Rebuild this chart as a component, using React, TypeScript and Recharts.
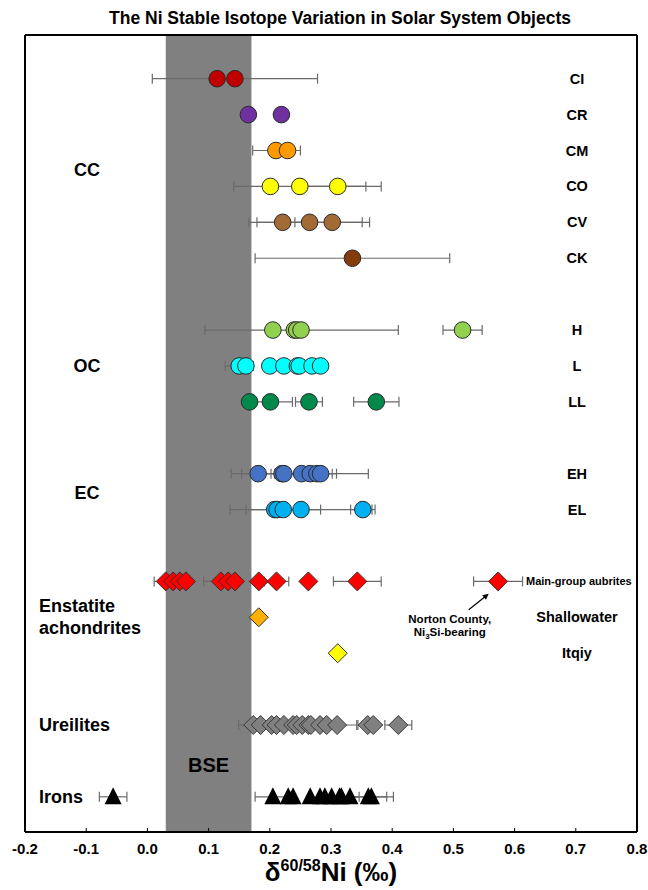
import React from "react";
import { ScatterChart, Scatter, XAxis, YAxis, ErrorBar, ReferenceArea } from "recharts";

// rows top to bottom, with empty slots between the groups
const rowNames = ["CI", "CR", "CM", "CO", "CV", "CK", "H", "L", "LL", "EH", "EL", "Main-group aubrites", "Shallowater", "Itqiy", "Ureilites", "Irons"];
const rowSlots = [0, 1, 2, 3, 4, 5, 7, 8, 9, 11, 12, 14, 15, 16, 18, 20];

const groupNames = ["CC", "OC", "EC", "Enstatite achondrites", "Ureilites", "Irons"];
const groupSlots = [2.55, 8, 11.55, 15.2, 18, 20];

const xTicks = [-0.2, -0.1, 0.0, 0.1, 0.2, 0.3, 0.4, 0.5, 0.6, 0.7, 0.8];
const bseRange = [0.03, 0.17];

// delta 60/58 Ni values (permil)
const ciValues = [0.114, 0.143];
const crValues = [0.165, 0.219];
const cmValues = [0.21, 0.229];
const coValues = [0.201, 0.249, 0.311];
const cvValues = [0.221, 0.265, 0.302];
const ckValues = [0.335];
const hValues = [0.205, 0.24, 0.244, 0.251, 0.515];
const lValues = [0.15, 0.161, 0.2, 0.223, 0.245, 0.248, 0.269, 0.283];
const llValues = [0.167, 0.201, 0.264, 0.374];
const ehValues = [0.181, 0.22, 0.223, 0.252, 0.266, 0.277, 0.283];
const elValues = [0.208, 0.212, 0.222, 0.251, 0.352];
const aubriteValues = [0.03, 0.042, 0.053, 0.063, 0.12, 0.132, 0.143, 0.182, 0.211, 0.263, 0.343, 0.573];
const shallowaterValues = [0.182];
const itqiyValues = [0.311];
const ureiliteValues = [0.173, 0.185, 0.203, 0.211, 0.223, 0.238, 0.244, 0.253, 0.263, 0.267, 0.282, 0.293, 0.31, 0.36, 0.369, 0.41];
const ironValues = [-0.056, 0.205, 0.23, 0.238, 0.266, 0.282, 0.29, 0.301, 0.314, 0.317, 0.331, 0.361, 0.366];

// [value, 2SD] for the points that carry error bars
const ciErrors = [[0.143, 0.135]];
const cmErrors = [[0.211, 0.039]];
const coErrors = [[0.249, 0.108], [0.311, 0.071]];
const cvErrors = [[0.221, 0.055], [0.265, 0.086], [0.302, 0.061]];
const ckErrors = [[0.335, 0.159]];
const hErrors = [[0.252, 0.158], [0.515, 0.032]];
const lErrors = [[0.15, 0.023]];
const llErrors = [[0.201, 0.036], [0.264, 0.022], [0.374, 0.037]];
const ehErrors = [[0.181, 0.027], [0.223, 0.086], [0.252, 0.05], [0.266, 0.095]];
const elErrors = [[0.222, 0.061], [0.251, 0.116], [0.352, 0.02]];
const aubriteErrors = [[0.03, 0.019], [0.12, 0.028], [0.211, 0.02], [0.343, 0.039], [0.573, 0.04]];
const ureiliteErrors = [[0.173, 0.024], [0.31, 0.032], [0.36, 0.016], [0.41, 0.022]];
const ironErrors = [[-0.056, 0.0225], [0.205, 0.029], [0.317, 0.029], [0.361, 0.03], [0.366, 0.036]];

const slotOf = (name: string) => rowSlots[rowNames.indexOf(name)];

const series = [
  { name: "CI", values: ciValues, errors: ciErrors, fill: "#C00000", marker: "circle" },
  { name: "CR", values: crValues, errors: [], fill: "#7030A0", marker: "circle" },
  { name: "CM", values: cmValues, errors: cmErrors, fill: "#FF9900", marker: "circle" },
  { name: "CO", values: coValues, errors: coErrors, fill: "#FFFF00", marker: "circle" },
  { name: "CV", values: cvValues, errors: cvErrors, fill: "#A26A35", marker: "circle" },
  { name: "CK", values: ckValues, errors: ckErrors, fill: "#843C0C", marker: "circle" },
  { name: "H", values: hValues, errors: hErrors, fill: "#92D050", marker: "circle" },
  { name: "L", values: lValues, errors: lErrors, fill: "#00FFFF", marker: "circle" },
  { name: "LL", values: llValues, errors: llErrors, fill: "#00894A", marker: "circle" },
  { name: "EH", values: ehValues, errors: ehErrors, fill: "#4472C4", marker: "circle" },
  { name: "EL", values: elValues, errors: elErrors, fill: "#00B0F0", marker: "circle" },
  { name: "Main-group aubrites", values: aubriteValues, errors: aubriteErrors, fill: "#FF0000", marker: "diamond" },
  { name: "Shallowater", values: shallowaterValues, errors: [], fill: "#FFB000", marker: "diamond" },
  { name: "Itqiy", values: itqiyValues, errors: [], fill: "#FFFF00", marker: "diamond" },
  { name: "Ureilites", values: ureiliteValues, errors: ureiliteErrors, fill: "#808080", marker: "diamond" },
  { name: "Irons", values: ironValues, errors: ironErrors, fill: "#000000", marker: "triangle" },
];

const errorPoints = series.flatMap((s) => s.errors.map(([x, err]) => ({ x, y: slotOf(s.name), err })));

const yDomain = [-1.217, 20.98];
const font = "'Liberation Sans', Arial, Helvetica, sans-serif";

const markerShape = (kind: string, fill: string) => (p: any) => {
  const { cx, cy } = p;
  if (kind === "circle") {
    return <circle cx={cx} cy={cy} r={8.3} fill={fill} stroke="#2a2a2a" strokeWidth={1} />;
  }
  if (kind === "diamond") {
    const d = 9.5;
    return (
      <polygon
        points={`${cx},${cy - d} ${cx + d},${cy} ${cx},${cy + d} ${cx - d},${cy}`}
        fill={fill}
        stroke={fill === "#808080" ? "#3a3a3a" : "#333"}
        strokeWidth={1}
      />
    );
  }
  return <polygon points={`${cx},${cy - 9.5} ${cx + 8.5},${cy + 7.5} ${cx - 8.5},${cy + 7.5}`} fill={fill} />;
};

const XTick = (p: any) => {
  const { x, y, payload } = p;
  return (
    <g>
      <line x1={x} y1={y} x2={x} y2={y - 4} stroke="#000" strokeWidth={1} />
      <text x={x} y={y + 22} textAnchor="middle" fontSize={15} fontWeight="bold" fill="#000">
        {payload.value.toFixed(1)}
      </text>
    </g>
  );
};

// plot frame edges, used by the label ticks
const plotLeft = 25;
const plotRight = 637;

const LeftTick = (p: any) => {
  const { y, payload } = p;
  const name = groupNames[groupSlots.indexOf(payload.value)];
  if (name === "CC" || name === "OC" || name === "EC") {
    return (
      <text x={plotLeft + 62} y={y + 6} textAnchor="middle" fontSize={18} fontWeight="bold" fill="#000">
        {name}
      </text>
    );
  }
  const words = name.split(" ");
  if (words.length > 1) {
    return (
      <text x={plotLeft + 14} y={y - 12} textAnchor="start" fontSize={18} fontWeight="bold" fill="#000">
        <tspan x={plotLeft + 14} dy={0}>{words[0]}</tspan>
        <tspan x={plotLeft + 14} dy={22}>{words[1]}</tspan>
      </text>
    );
  }
  return (
    <text x={plotLeft + 14} y={y + 6} textAnchor="start" fontSize={18} fontWeight="bold" fill="#000">
      {name}
    </text>
  );
};

const RightTick = (p: any) => {
  const { y, payload } = p;
  const name = rowNames[rowSlots.indexOf(payload.value)];
  if (name === "Main-group aubrites") {
    return (
      <text x={plotRight - 111} y={y + 4} textAnchor="start" fontSize={11} fontWeight="bold" fill="#000">
        {name}
      </text>
    );
  }
  return (
    <text x={plotRight - 60} y={y + 5} textAnchor="middle" fontSize={14.5} fontWeight="bold" fill="#000">
      {name}
    </text>
  );
};

const rightSlots = rowSlots.filter((_, i) => rowNames[i] !== "Ureilites" && rowNames[i] !== "Irons");

// Norton County note, anchored on the text centre
const nortonNote = [{ x: 0.494, y: 15.04 }];
const NortonShape = (p: any) => {
  const { cx, cy } = p;
  const tx = cx + 39;
  const ty = cy - 25;
  return (
    <g>
      <text x={cx} y={cy + 4} textAnchor="middle" fontSize={11.5} fontWeight="bold" fill="#000">
        Norton County,
      </text>
      <text x={cx} y={cy + 17} textAnchor="middle" fontSize={11.5} fontWeight="bold" fill="#000">
        Ni<tspan fontSize={8} dy={3}>3</tspan>
        <tspan dy={-3}>Si-bearing</tspan>
      </text>
      <line x1={cx + 19} y1={cy - 9} x2={tx - 4} y2={ty + 3.2} stroke="#000" strokeWidth={1.2} />
      <polygon points={`${tx},${ty} ${tx - 4.7 + 1.9},${ty + 3.75 + 2.3} ${tx - 4.7 - 1.9},${ty + 3.75 - 2.3}`} fill="#000" />
    </g>
  );
};

const AxisTitle = (p: any) => {
  const { viewBox } = p;
  const cx = viewBox.x + viewBox.width / 2;
  return (
    <text x={cx} y={viewBox.y + 49} textAnchor="middle" fontSize={26} fontWeight="bold" fill="#000">
      δ<tspan fontSize={16} dy={-10}>60/58</tspan>
      <tspan dy={10}>Ni (‰)</tspan>
    </text>
  );
};

export default function App() {
  return (
    <div style={{ position: "absolute", left: 0, top: 0, width: 648, height: 890, background: "#fff", fontFamily: font }}>
      <div
        style={{
          position: "absolute",
          left: 0,
          top: 7,
          width: 680,
          textAlign: "center",
          fontSize: 17.5,
          fontWeight: "bold",
          lineHeight: "22px",
          color: "#000",
        }}
      >
        The Ni Stable Isotope Variation in Solar System Objects
      </div>
      <ScatterChart width={648} height={890} margin={{ top: 34, right: 10, bottom: 0, left: 24 }}>
        <XAxis
          xAxisId="bottom"
          dataKey="x"
          type="number"
          domain={[-0.2, 0.8]}
          ticks={xTicks}
          interval={0}
          height={58}
          tickLine={false}
          tickSize={0}
          tickMargin={0}
          tick={<XTick />}
          axisLine={{ stroke: "#000", strokeWidth: 2 }}
          allowDataOverflow
          label={AxisTitle}
        />
        <XAxis
          xAxisId="top"
          orientation="top"
          dataKey="x"
          type="number"
          domain={[-0.2, 0.8]}
          height={1}
          tick={false}
          tickLine={false}
          axisLine={{ stroke: "#000", strokeWidth: 2 }}
          allowDataOverflow
        />
        <YAxis
          yAxisId="left"
          dataKey="y"
          type="number"
          domain={yDomain}
          reversed
          ticks={groupSlots}
          interval={0}
          width={1}
          tickLine={false}
          tickSize={0}
          tickMargin={0}
          tick={<LeftTick />}
          axisLine={{ stroke: "#000", strokeWidth: 2 }}
          allowDataOverflow
        />
        <YAxis
          yAxisId="right"
          orientation="right"
          dataKey="y"
          type="number"
          domain={yDomain}
          reversed
          ticks={rightSlots}
          interval={0}
          width={1}
          tickLine={false}
          tickSize={0}
          tickMargin={0}
          tick={<RightTick />}
          axisLine={{ stroke: "#000", strokeWidth: 2 }}
          allowDataOverflow
        />
        <ReferenceArea
          xAxisId="bottom"
          yAxisId="left"
          x1={bseRange[0]}
          x2={bseRange[1]}
          y1={yDomain[0]}
          y2={yDomain[1]}
          fill="#808080"
          fillOpacity={1}
          stroke="none"
          ifOverflow="hidden"
          label={{ value: "BSE", position: "insideBottom", offset: 60, fontSize: 20, fontWeight: "bold", fill: "#000" }}
        />
        <Scatter
          xAxisId="top"
          yAxisId="right"
          data={errorPoints}
          shape={() => <g />}
          isAnimationActive={false}
        >
          <ErrorBar dataKey="err" direction="x" width={5} stroke="#6a6a6a" strokeWidth={1.2} isAnimationActive={false} />
        </Scatter>
        {series.map((s) => (
          <Scatter
            key={s.name}
            xAxisId="bottom"
            yAxisId="left"
            data={s.values.map((v) => ({ x: v, y: slotOf(s.name) }))}
            shape={markerShape(s.marker, s.fill)}
            isAnimationActive={false}
          />
        ))}
        <Scatter
          xAxisId="bottom"
          yAxisId="left"
          data={nortonNote}
          shape={NortonShape}
          isAnimationActive={false}
        />
      </ScatterChart>
    </div>
  );
}
